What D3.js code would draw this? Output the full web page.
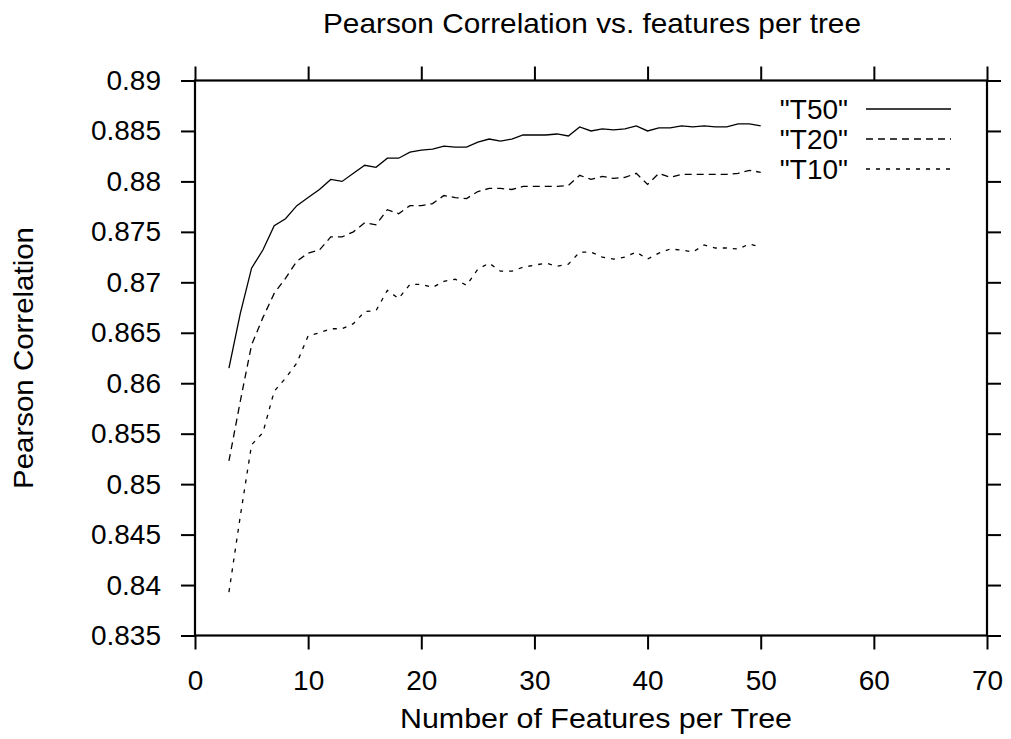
<!DOCTYPE html>
<html>
<head>
<meta charset="utf-8">
<script src="https://cdn.jsdelivr.net/npm/d3@7"></script>
<style>
    body { margin: 0; background: #fff; }
    text { font-family: "Liberation Sans", Arial, Helvetica, sans-serif; fill: #000; }
</style>
</head>
<body>
<svg id="chart" width="1011" height="739"></svg>
<script>
//*************************************************
// Data
//*************************************************
var featuresPerTree = d3.range(3, 51); // 3 .. 50

var seriesNames = ['"T50"', '"T20"', '"T10"'];

var t50 = [0.8615, 0.8669, 0.8714, 0.8732, 0.8756, 0.8763, 0.8776, 0.8784, 0.8792, 0.8802, 0.8800, 0.8808,
           0.8816, 0.8814, 0.8823, 0.8823, 0.8829, 0.8831, 0.8832, 0.8835, 0.8834, 0.8834, 0.8839, 0.8842,
           0.8840, 0.8842, 0.8846, 0.8846, 0.8846, 0.8847, 0.8845, 0.8854, 0.8850, 0.8852, 0.8851, 0.8852,
           0.8855, 0.8850, 0.8853, 0.8853, 0.8855, 0.8854, 0.8855, 0.8854, 0.8854, 0.8857, 0.8857, 0.8855];

var t20 = [0.8523, 0.8582, 0.8638, 0.8665, 0.8689, 0.8704, 0.8721, 0.8729, 0.8732, 0.8745, 0.8745, 0.8750,
           0.8759, 0.8757, 0.8772, 0.8768, 0.8776, 0.8776, 0.8778, 0.8786, 0.8784, 0.8783, 0.8790, 0.8793,
           0.8793, 0.8792, 0.8795, 0.8795, 0.8795, 0.8795, 0.8796, 0.8806, 0.8802, 0.8805, 0.8803, 0.8804,
           0.8808, 0.8797, 0.8808, 0.8804, 0.8807, 0.8807, 0.8807, 0.8807, 0.8807, 0.8808, 0.8811, 0.8809];

var t10 = [0.8393, 0.8468, 0.8539, 0.8551, 0.8592, 0.8605, 0.8620, 0.8647, 0.8650, 0.8654, 0.8654, 0.8659,
           0.8671, 0.8672, 0.8692, 0.8684, 0.8698, 0.8698, 0.8695, 0.8701, 0.8703, 0.8697, 0.8713, 0.8719,
           0.8711, 0.8711, 0.8715, 0.8717, 0.8719, 0.8716, 0.8718, 0.8730, 0.8730, 0.8725, 0.8723, 0.8725,
           0.8730, 0.8723, 0.8729, 0.8733, 0.8732, 0.8730, 0.8737, 0.8734, 0.8734, 0.8733, 0.8738, 0.8735];

var xTicks = [0, 10, 20, 30, 40, 50, 60, 70];
var yTicks = [0.835, 0.84, 0.845, 0.85, 0.855, 0.86, 0.865, 0.87, 0.875, 0.88, 0.885, 0.89];

var titleText = 'Pearson Correlation vs. features per tree';
var xLabelText = 'Number of Features per Tree';
var yLabelText = 'Pearson Correlation';

//*************************************************
// Layout
//*************************************************
var _width = 1011;
var _height = 739;
var _padding = { top: 80.5, right: 24, bottom: 103.5, left: 195 };
var _tickSize = 14;
var _fontSize = 28;
var _dashes = ['none', '7,5', '4,6'];

var chartWidth = _width - _padding.left - _padding.right;
var chartHeight = _height - _padding.top - _padding.bottom;

var svg = d3.select('#chart');
var root = svg.append('g')
    .attr('transform', 'translate(' + _padding.left + ',' + _padding.top + ')');

var x = d3.scaleLinear().domain([0, 70]).range([0, chartWidth]);
var y = d3.scaleLinear().domain([0.835, 0.89]).range([chartHeight, 0]);

var fmtY = function (v){ return String(+v.toFixed(3)); };

//----------------------------------------------------------------------------------
// Axes: gnuplot style, ticks out on all four sides, labels only bottom/left
//----------------------------------------------------------------------------------
function styleAxis(g){
    g.select('.domain').remove();
    g.selectAll('.tick line').attr('stroke', '#000').attr('stroke-width', 2);
    g.selectAll('.tick text')
        .style('font-family', '"Liberation Sans", Arial, sans-serif')
        .style('font-size', _fontSize + 'px')
        .attr('fill', '#000');
}

root.append('g')
    .attr('transform', 'translate(0,' + chartHeight + ')')
    .call(d3.axisBottom(x).tickValues(xTicks).tickSize(_tickSize).tickPadding(20.5))
    .call(styleAxis);

root.append('g')
    .call(d3.axisTop(x).tickValues(xTicks).tickSize(_tickSize).tickFormat(''))
    .call(styleAxis);

root.append('g')
    .call(d3.axisLeft(y).tickValues(yTicks).tickSize(_tickSize).tickPadding(20).tickFormat(fmtY))
    .call(styleAxis);

root.append('g')
    .attr('transform', 'translate(' + chartWidth + ',0)')
    .call(d3.axisRight(y).tickValues(yTicks).tickSize(_tickSize).tickFormat(''))
    .call(styleAxis);

// frame
root.append('rect')
    .attr('width', chartWidth)
    .attr('height', chartHeight)
    .attr('fill', 'none')
    .attr('stroke', '#000')
    .attr('stroke-width', 2.2);

//----------------------------------------------------------------------------------
// Lines
//----------------------------------------------------------------------------------
var series = [t50, t20, t10];

var line = d3.line()
    .x(function (d, i){ return x(featuresPerTree[i]); })
    .y(function (d){ return y(d); });

root.selectAll('.series')
    .data(series)
    .enter().append('path')
    .attr('class', 'series')
    .attr('d', line)
    .attr('fill', 'none')
    .attr('stroke', '#000')
    .attr('stroke-width', 1.3)
    .attr('stroke-dasharray', function (d, i){ return _dashes[i]; });

//----------------------------------------------------------------------------------
// Legend (top right, gnuplot key)
//----------------------------------------------------------------------------------
var legend = root.selectAll('.key')
    .data(seriesNames)
    .enter().append('g')
    .attr('class', 'key')
    .attr('transform', function (d, i){ return 'translate(0,' + (28.5 + i * 30) + ')'; });

legend.append('text')
    .attr('x', 848 - _padding.left)
    .attr('dy', '0.36em')
    .attr('text-anchor', 'end')
    .style('font-size', _fontSize + 'px')
    .text(function (d){ return d; });

legend.append('line')
    .attr('x1', 866 - _padding.left)
    .attr('x2', 951 - _padding.left)
    .attr('stroke', '#000')
    .attr('stroke-width', 1.3)
    .attr('stroke-dasharray', function (d, i){ return _dashes[i]; });

//----------------------------------------------------------------------------------
// Titles
//----------------------------------------------------------------------------------
svg.append('text')
    .attr('x', 592)
    .attr('y', 33)
    .attr('text-anchor', 'middle')
    .attr('textLength', 538)
    .attr('lengthAdjust', 'spacingAndGlyphs')
    .style('font-size', _fontSize + 'px')
    .text(titleText);

svg.append('text')
    .attr('x', 596)
    .attr('y', 728)
    .attr('text-anchor', 'middle')
    .attr('textLength', 392)
    .attr('lengthAdjust', 'spacingAndGlyphs')
    .style('font-size', _fontSize + 'px')
    .text(xLabelText);

svg.append('text')
    .attr('transform', 'translate(33,358) rotate(-90)')
    .attr('text-anchor', 'middle')
    .attr('textLength', 262)
    .attr('lengthAdjust', 'spacingAndGlyphs')
    .style('font-size', _fontSize + 'px')
    .text(yLabelText);
</script>
</body>
</html>
